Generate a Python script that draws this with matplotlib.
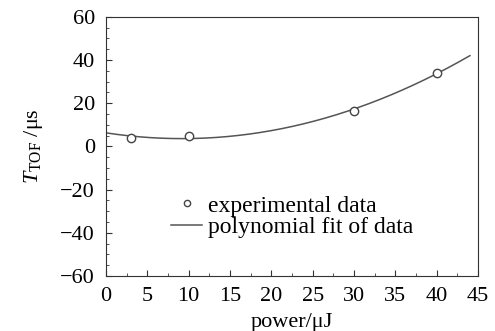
import numpy as np
import matplotlib
matplotlib.use("Agg")
import matplotlib.pyplot as plt
from matplotlib.ticker import MultipleLocator

plt.rcParams["font.family"] = ["Liberation Serif", "DejaVu Serif"]
plt.rcParams["mathtext.fontset"] = "custom"
plt.rcParams["mathtext.rm"] = "Liberation Serif"
plt.rcParams["mathtext.it"] = "Liberation Serif:italic"

# measured points
power = [3, 10, 30, 40]
t_tof = [4.1, 4.9, 16.4, 34.2]

# polynomial fit of data
coef = np.polyfit(power, t_tof, 2)
x_fit = np.linspace(0, 44, 200)
y_fit = np.polyval(coef, x_fit)

fig = plt.figure(figsize=(4.95, 3.31), dpi=100)
ax = fig.add_axes([0.214, 0.166, 0.752, 0.783])

ax.plot(x_fit, y_fit, color="#555555", lw=1.1, label="polynomial fit of data")
ax.plot(power, t_tof, "o", mfc="white", mec="#444444", mew=1.0, ms=6,
        label="experimental data", ls="none")

ax.set_xlim(0, 45)
ax.set_ylim(-60, 60)
ax.xaxis.set_major_locator(MultipleLocator(5))
ax.xaxis.set_minor_locator(MultipleLocator(2.5))
ax.yaxis.set_major_locator(MultipleLocator(20))
ax.yaxis.set_minor_locator(MultipleLocator(5))
ax.tick_params(which="both", direction="in", labelsize=16, color="#333333")
ax.tick_params(which="major", length=4, pad=8)
ax.tick_params(which="minor", length=2.5)
for s in ax.spines.values():
    s.set_color("#333333")

ax.set_xlabel("power/μJ", fontsize=16, labelpad=5)
ax.set_ylabel(r"$T_{\mathrm{TOF}}$ /μs", fontsize=16, labelpad=11)

h, l = ax.get_legend_handles_labels()
leg = ax.legend(h[::-1], l[::-1], loc="lower left", bbox_to_anchor=(0.15, 0.11),
                frameon=False, fontsize=17, handlelength=1.3, handletextpad=0.25,
                borderaxespad=0, labelspacing=0.0, numpoints=1)
leg.legend_handles[0].set_markersize(4.5)

fig.savefig("out.png", dpi=100)
